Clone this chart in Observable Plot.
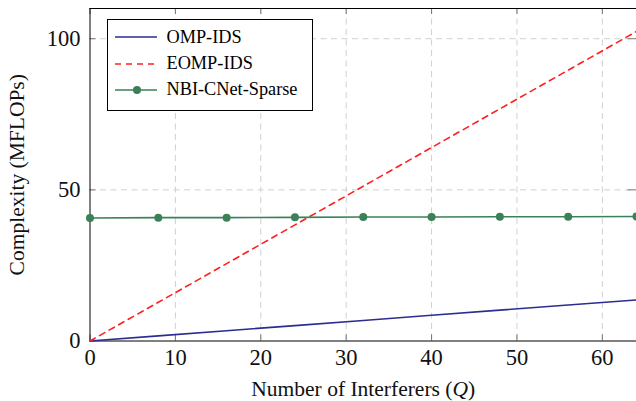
<!DOCTYPE html>
<html><head><meta charset="utf-8">
<script src="https://cdn.jsdelivr.net/npm/d3@7"></script>
<script src="https://cdn.jsdelivr.net/npm/@observablehq/plot@0.6"></script>
<style>
body{margin:0;background:#fff;}
#wrap{position:relative;width:636px;height:401px;font-family:'Liberation Serif','Times New Roman',serif;}
#legend{position:absolute;left:106.5px;top:18.5px;width:206px;height:92px;border:1px solid #000;background:#fff;box-sizing:border-box;font-size:18.3px;font-family:'Liberation Serif',serif;}
.row{position:absolute;left:7.5px;height:20px;display:flex;align-items:center;white-space:nowrap;}
.row svg{margin-right:9.5px;}
</style></head>
<body><div id="wrap"><div id="chart"></div><div id="legend"></div></div>
<script>
const Q = [0, 8, 16, 24, 32, 40, 48, 56, 64];
const ompIds = [0, 1.7, 3.4, 5.1, 6.8, 8.5, 10.2, 11.9, 13.6];
const eompIds = [0, 12.8, 25.6, 38.4, 51.2, 64.0, 76.8, 89.6, 102.4];
const nbiCNetSparse = [40.7, 40.8, 40.8, 40.9, 41.0, 41.0, 41.1, 41.1, 41.2];
const xTicks = [0, 10, 20, 30, 40, 50, 60];
const yTicks = [0, 50, 100];
const seriesNames = ["OMP-IDS", "EOMP-IDS", "NBI-CNet-Sparse"];
const colors = {"OMP-IDS": "#2b2d91", "EOMP-IDS": "#ff1f1f", "NBI-CNet-Sparse": "#3b8158"};

const omp = Q.map((q, i) => ({q, v: ompIds[i]}));
const eomp = Q.map((q, i) => ({q, v: eompIds[i]}));
const nbi = Q.map((q, i) => ({q, v: nbiCNetSparse[i]}));

const chart = Plot.plot({
  width: 636, height: 401,
  marginLeft: 89.5, marginTop: 8, marginBottom: 60.5, marginRight: 0,
  style: "font-family: 'Liberation Serif', serif; font-size: 21.5px; color: #111; background: #fff; overflow: visible;",
  x: {domain: [0, 64]},
  y: {domain: [0, 110]},
  marks: [
    Plot.gridX(xTicks.filter(d => d > 0), {stroke: "#d0d0d0", strokeOpacity: 1, strokeDasharray: "6,4.5", strokeWidth: 1}),
    Plot.gridY(yTicks.filter(d => d > 0), {stroke: "#d0d0d0", strokeOpacity: 1, strokeDasharray: "6,4.5", strokeWidth: 1}),
    Plot.ruleX(xTicks, {y1: 0, y2: 2, stroke: "#777"}),
    Plot.ruleX(xTicks, {y1: 108, y2: 110, stroke: "#777"}),
    Plot.ruleY(yTicks.filter(d => d > 0), {x1: 0, x2: 0.7, stroke: "#777"}),
    Plot.ruleY(yTicks.filter(d => d > 0), {x1: 63.0, x2: 64, stroke: "#777"}),
    Plot.ruleX([0], {stroke: "#000"}),
    Plot.ruleY([0, 110], {stroke: "#000"}),
    Plot.axisX(xTicks, {tickSize: 0, tickPadding: 8.5, fontSize: 22.5, label: "Number of Interferers (Q)", labelAnchor: "center", labelArrow: "none", labelOffset: 55}),
    Plot.axisY(yTicks, {tickSize: 0, tickPadding: 9.5, fontSize: 22.5, label: "Complexity (MFLOPs)", labelAnchor: "center", labelArrow: "none", labelOffset: 81}),
    Plot.line(omp, {x: "q", y: "v", stroke: colors["OMP-IDS"], strokeWidth: 1.6}),
    Plot.line(eomp, {x: "q", y: "v", stroke: colors["EOMP-IDS"], strokeWidth: 1.6, strokeDasharray: "6,5"}),
    Plot.line(nbi, {x: "q", y: "v", stroke: colors["NBI-CNet-Sparse"], strokeWidth: 1.6}),
    Plot.dot(nbi, {x: "q", y: "v", fill: colors["NBI-CNet-Sparse"], r: 4})
  ]
});
document.getElementById("chart").appendChild(chart);

const svg = d3.select(chart);
svg.selectAll("g[aria-label='x-axis label'], g[aria-label='y-axis label']")
  .attr("font-size", 21.5);

// italic Q in x-axis label
svg.selectAll("text").each(function() {
  const t = d3.select(this);
  if (t.text() === "Number of Interferers (Q)") {
    t.text(null);
    t.append("tspan").text("Number of Interferers (");
    t.append("tspan").attr("font-style", "italic").text("Q");
    t.append("tspan").text(")");
  }
});

// legend
const legend = document.getElementById("legend");
seriesNames.forEach((name, i) => {
  const row = document.createElement("div");
  row.className = "row";
  row.style.top = (7.7 + i * 26.3) + "px";
  const dash = name === "EOMP-IDS" ? 'stroke-dasharray="6,5"' : "";
  const dot = name === "NBI-CNet-Sparse" ? `<circle cx="22" cy="5" r="4" fill="${colors[name]}"/>` : "";
  row.innerHTML = `<svg width="42" height="10"><line x1="0" x2="42" y1="5" y2="5" stroke="${colors[name]}" stroke-width="1.6" ${dash}/>${dot}</svg><span>${name}</span>`;
  legend.appendChild(row);
});
</script></body></html>
